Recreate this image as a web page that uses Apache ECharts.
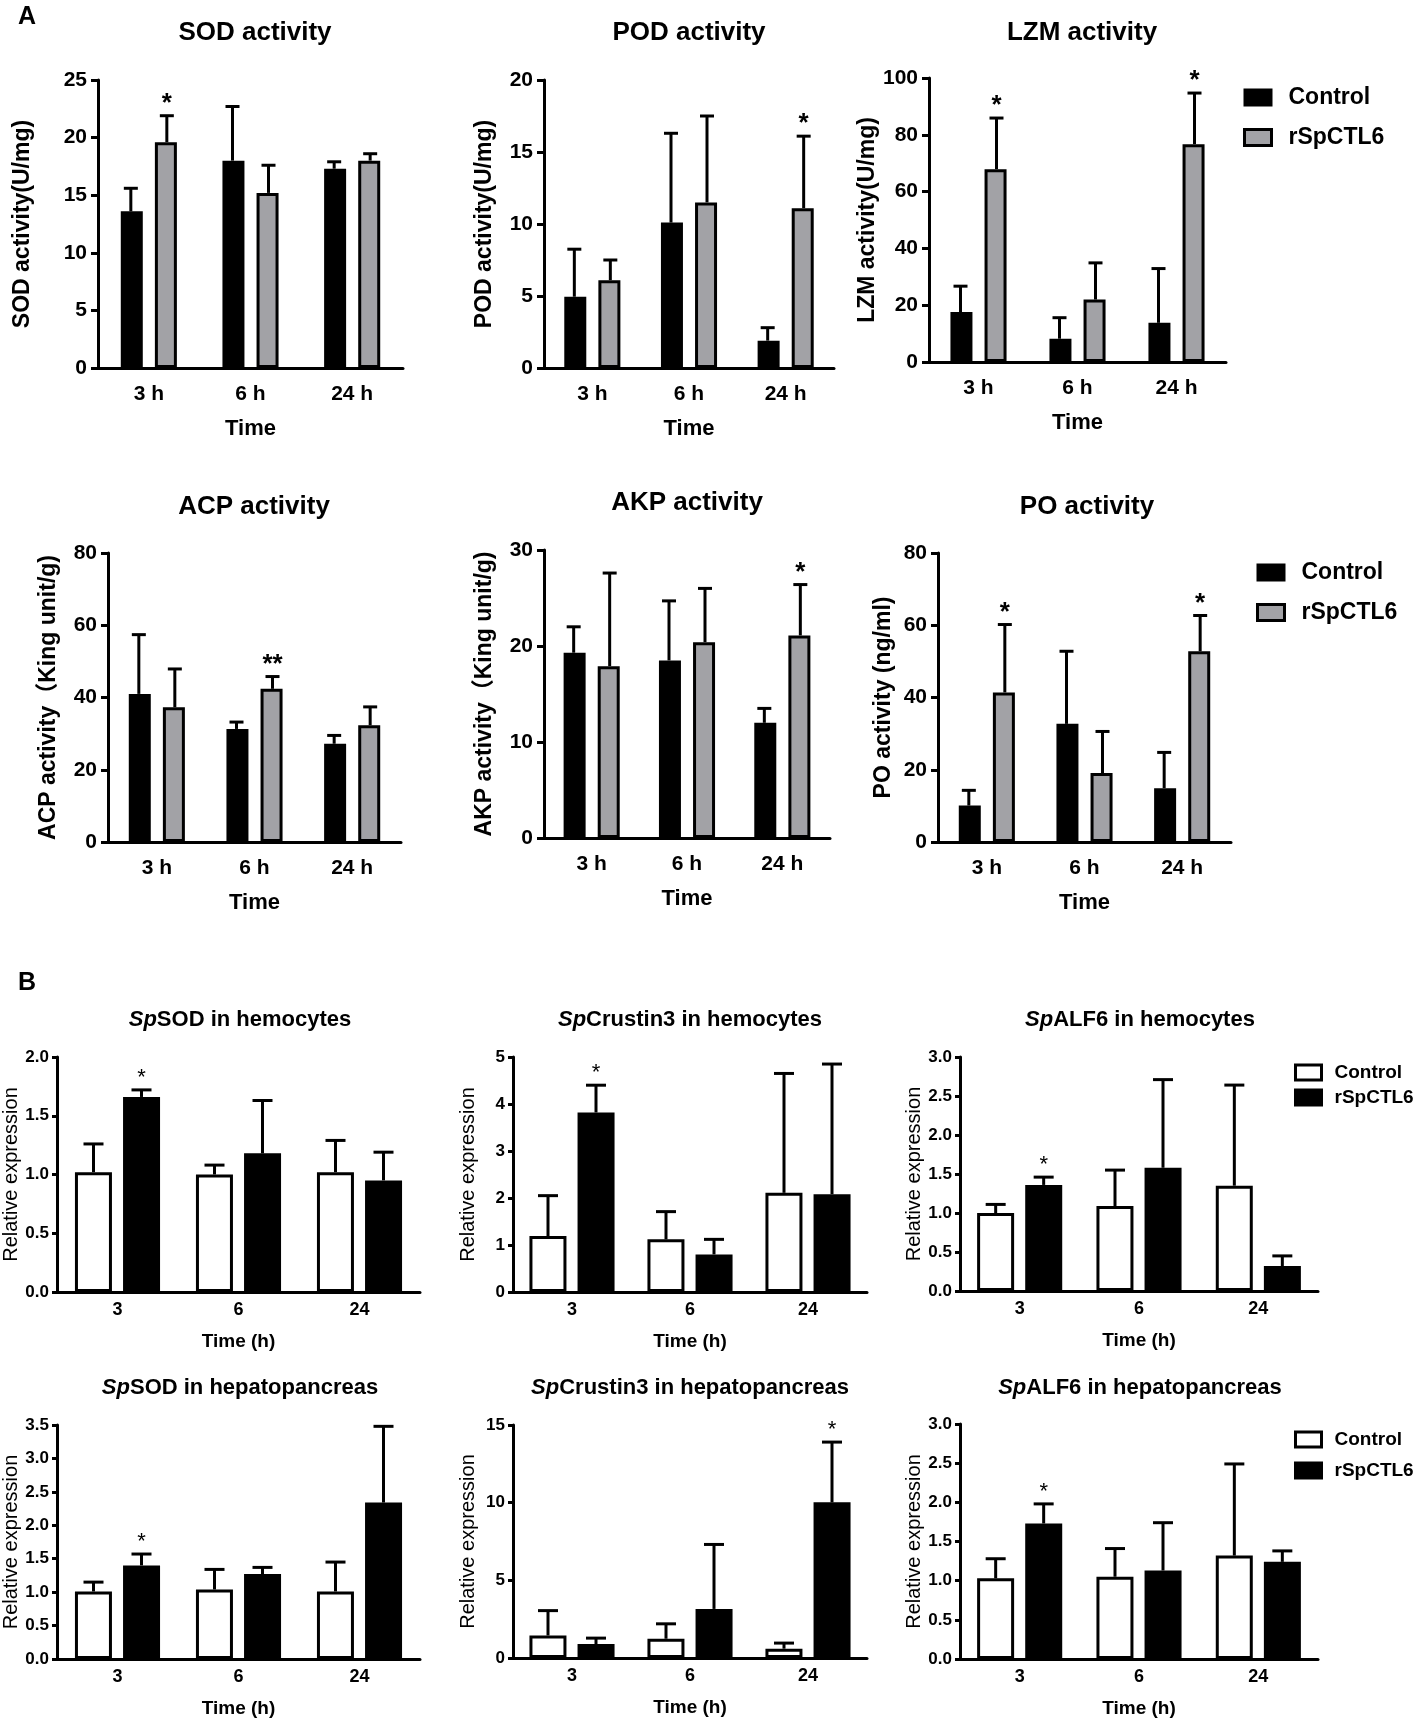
<!DOCTYPE html>
<html>
<head>
<meta charset="utf-8">
<script src="https://cdn.jsdelivr.net/npm/echarts@6/dist/echarts.min.js"></script>
<style>
  html, body { margin: 0; background: #fff; }
  #fig { width: 1418px; height: 1722px; }
</style>
</head>
<body>
<div id="fig"></div>
<script>
// categories
const timesA = ["3 h", "6 h", "24 h"]
const timesB = ["3", "6", "24"]

// A: enzyme activities (mean and SD)
const sodCtrl = [13.6, 18.0, 17.3], sodCtrlSd = [2.0, 4.7, 0.6]
const sodRsp = [19.6, 15.2, 18.0], sodRspSd = [2.3, 2.4, 0.6]
const sodStars = ["*", "", ""]

const podCtrl = [4.95, 10.1, 1.9], podCtrlSd = [3.3, 6.2, 0.9]
const podRsp = [6.1, 11.5, 11.1], podRspSd = [1.4, 6.0, 5.0]
const podStars = ["", "", "*"]

const lzmCtrl = [17.6, 8.2, 13.8], lzmCtrlSd = [9.1, 7.4, 19.1]
const lzmRsp = [67.9, 22.0, 76.7], lzmRspSd = [18.0, 12.9, 18.0]
const lzmStars = ["*", "", "*"]

const acpCtrl = [41.0, 31.3, 27.2], acpCtrlSd = [16.4, 1.9, 2.3]
const acpRsp = [37.3, 42.4, 32.3], acpRspSd = [10.6, 3.4, 5.1]
const acpStars = ["", "**", ""]

const akpCtrl = [19.3, 18.5, 12.0], akpCtrlSd = [2.7, 6.2, 1.5]
const akpRsp = [17.9, 20.4, 21.1], akpRspSd = [9.7, 5.6, 5.3]
const akpStars = ["", "", "*"]

const poCtrl = [10.1, 32.7, 14.9], poCtrlSd = [4.2, 20.1, 9.9]
const poRsp = [41.4, 19.1, 52.8], poRspSd = [18.8, 11.5, 9.9]
const poStars = ["*", "", "*"]

// B: relative expression
const sodHemCtrl = [1.02, 1.00, 1.02], sodHemCtrlSd = [0.24, 0.08, 0.27]
const sodHemRsp = [1.66, 1.18, 0.95], sodHemRspSd = [0.06, 0.45, 0.24]
const sodHemStars = ["*", "", ""]

const cruHemCtrl = [1.19, 1.12, 2.11], cruHemCtrlSd = [0.86, 0.59, 2.54]
const cruHemRsp = [3.82, 0.80, 2.08], cruHemRspSd = [0.58, 0.32, 2.77]
const cruHemStars = ["*", "", ""]

const alfHemCtrl = [1.00, 1.09, 1.35], alfHemCtrlSd = [0.11, 0.46, 1.29]
const alfHemRsp = [1.36, 1.58, 0.32], alfHemRspSd = [0.10, 1.13, 0.13]
const alfHemStars = ["*", "", ""]

const sodHepCtrl = [1.01, 1.04, 1.01], sodHepCtrlSd = [0.14, 0.30, 0.44]
const sodHepRsp = [1.40, 1.27, 2.34], sodHepRspSd = [0.17, 0.10, 1.14]
const sodHepStars = ["*", "", ""]

const cruHepCtrl = [1.45, 1.24, 0.60], cruHepCtrlSd = [1.60, 0.96, 0.36]
const cruHepRsp = [0.90, 3.16, 10.02], cruHepRspSd = [0.38, 4.15, 3.88]
const cruHepStars = ["", "", "*"]

const alfHepCtrl = [1.03, 1.05, 1.32], alfHepCtrlSd = [0.25, 0.36, 1.17]
const alfHepRsp = [1.73, 1.13, 1.24], alfHepRspSd = [0.25, 0.61, 0.14]
const alfHepStars = ["*", "", ""]

const FONT = "'Liberation Sans', Arial, 'Noto Sans CJK SC', sans-serif"
const GREY = "#a2a2a6"

// style sets for the two figure parts
const styleA = {
  cats: timesA, lw: 3, barWidth: 22, barGap: "55%", dx: 18, capW: 14,
  ctrlColor: "#000", rspColor: GREY,
  tickFont: 21, tickLen: 10, xMargin: 16, yTickLen: 7, yMargin: 11, yFont: 21,
  yNameFont: 23, yNameWeight: "bold", xName: "Time", xNameFont: 22, xNameGap: 50,
  starFont: 26, starWeight: "bold", starGap: 12
}
const styleB = {
  cats: timesB, lw: 3, barWidth: 37, barGap: "30%", dx: 24, capW: 20,
  ctrlColor: "#fff", rspColor: "#000",
  tickFont: 18, tickLen: 6, xMargin: 9, yTickLen: 5, yMargin: 8, yFont: 17,
  yNameFont: 20, yNameWeight: "normal", xName: "Time (h)", xNameFont: 19, xNameGap: 40,
  starFont: 22, starWeight: "normal", starGap: 12
}

// panel layout
const panels = [
  { s: styleA, box: [98, 403, 80, 368], max: 25, step: 5, dec: 0, yName: "SOD activity(U/mg)", yGap: 64,
    ctrl: sodCtrl, ctrlSd: sodCtrlSd, rsp: sodRsp, rspSd: sodRspSd, stars: sodStars },
  { s: styleA, box: [544, 834, 80, 368], max: 20, step: 5, dec: 0, yName: "POD activity(U/mg)", yGap: 48,
    ctrl: podCtrl, ctrlSd: podCtrlSd, rsp: podRsp, rspSd: podRspSd, stars: podStars },
  { s: styleA, box: [929, 1226, 78, 362], max: 100, step: 20, dec: 0, yName: "LZM activity(U/mg)", yGap: 45,
    ctrl: lzmCtrl, ctrlSd: lzmCtrlSd, rsp: lzmRsp, rspSd: lzmRspSd, stars: lzmStars },
  { s: styleA, box: [108, 401, 553, 842], max: 80, step: 20, dec: 0, yName: "ACP activity（King unit/g)", yGap: 48,
    ctrl: acpCtrl, ctrlSd: acpCtrlSd, rsp: acpRsp, rspSd: acpRspSd, stars: acpStars },
  { s: styleA, box: [544, 830, 550, 838], max: 30, step: 10, dec: 0, yName: "AKP activity（King unit/g)", yGap: 48,
    ctrl: akpCtrl, ctrlSd: akpCtrlSd, rsp: akpRsp, rspSd: akpRspSd, stars: akpStars },
  { s: styleA, box: [938, 1231, 553, 842], max: 80, step: 20, dec: 0, yName: "PO activity (ng/ml)", yGap: 43,
    ctrl: poCtrl, ctrlSd: poCtrlSd, rsp: poRsp, rspSd: poRspSd, stars: poStars },
  { s: styleB, box: [57, 420, 1057, 1292], max: 2, step: 0.5, dec: 1, yName: "Relative expression", yGap: 35,
    ctrl: sodHemCtrl, ctrlSd: sodHemCtrlSd, rsp: sodHemRsp, rspSd: sodHemRspSd, stars: sodHemStars },
  { s: styleB, box: [513, 867, 1057, 1292], max: 5, step: 1, dec: 0, yName: "Relative expression", yGap: 35,
    ctrl: cruHemCtrl, ctrlSd: cruHemCtrlSd, rsp: cruHemRsp, rspSd: cruHemRspSd, stars: cruHemStars },
  { s: styleB, box: [960, 1318, 1057, 1291], max: 3, step: 0.5, dec: 1, yName: "Relative expression", yGap: 35,
    ctrl: alfHemCtrl, ctrlSd: alfHemCtrlSd, rsp: alfHemRsp, rspSd: alfHemRspSd, stars: alfHemStars },
  { s: styleB, box: [57, 420, 1425, 1659], max: 3.5, step: 0.5, dec: 1, yName: "Relative expression", yGap: 35,
    ctrl: sodHepCtrl, ctrlSd: sodHepCtrlSd, rsp: sodHepRsp, rspSd: sodHepRspSd, stars: sodHepStars },
  { s: styleB, box: [513, 867, 1425, 1658], max: 15, step: 5, dec: 0, yName: "Relative expression", yGap: 35,
    ctrl: cruHepCtrl, ctrlSd: cruHepCtrlSd, rsp: cruHepRsp, rspSd: cruHepRspSd, stars: cruHepStars },
  { s: styleB, box: [960, 1318, 1424, 1659], max: 3, step: 0.5, dec: 1, yName: "Relative expression", yGap: 35,
    ctrl: alfHepCtrl, ctrlSd: alfHepCtrlSd, rsp: alfHepRsp, rspSd: alfHepRspSd, stars: alfHepStars }
]

// panel titles: [italic part, rest, centre x, centre y]
const titlesA = [
  ["", "SOD activity", 255, 33], ["", "POD activity", 689, 33], ["", "LZM activity", 1082, 33],
  ["", "ACP activity", 254, 507], ["", "AKP activity", 687, 503], ["", "PO activity", 1087, 507]
]
const titlesB = [
  ["Sp", "SOD in hemocytes", 240, 1020], ["Sp", "Crustin3 in hemocytes", 690, 1020],
  ["Sp", "ALF6 in hemocytes", 1140, 1020], ["Sp", "SOD in hepatopancreas", 240, 1388],
  ["Sp", "Crustin3 in hepatopancreas", 690, 1388], ["Sp", "ALF6 in hepatopancreas", 1140, 1388]
]

// upper error bar with cap and significance mark
function errRender(means, sds, stars, dx, s) {
  return function (params, api) {
    let i = params.dataIndex
    let base = api.coord([i, means[i]])
    let top = api.coord([i, means[i] + sds[i]])
    let x = base[0] + dx
    let kids = [
      { type: "line", shape: { x1: x, y1: base[1], x2: x, y2: top[1] }, style: { stroke: "#000", lineWidth: s.lw } },
      { type: "line", shape: { x1: x - s.capW / 2, y1: top[1], x2: x + s.capW / 2, y2: top[1] },
        style: { stroke: "#000", lineWidth: s.lw } }
    ]
    if (stars && stars[i]) {
      kids.push({
        type: "text",
        style: {
          text: stars[i], x: x, y: top[1] - s.starGap, align: "center", verticalAlign: "middle",
          fontSize: s.starFont, fontWeight: s.starWeight, fontFamily: FONT, fill: "#000"
        }
      })
    }
    return { type: "group", children: kids }
  }
}

function initChart() {
  let option = {
    animation: false,
    backgroundColor: "#fff",
    grid: [], xAxis: [], yAxis: [], series: [], legend: [], graphic: []
  }

  panels.forEach(function (p, k) {
    let s = p.s
    let b = p.box
    option.grid.push({ left: b[0], top: b[2], width: b[1] - b[0], height: b[3] - b[2] })
    option.xAxis.push({
      type: "category", gridIndex: k, data: s.cats,
      axisLine: { lineStyle: { color: "#000", width: s.lw } },
      axisTick: { alignWithLabel: true, length: s.tickLen, lineStyle: { color: "#000", width: s.lw } },
      axisLabel: { color: "#000", fontSize: s.tickFont, fontWeight: "bold", fontFamily: FONT, margin: s.xMargin },
      name: s.xName, nameLocation: "middle", nameGap: s.xNameGap,
      nameTextStyle: { color: "#000", fontSize: s.xNameFont, fontWeight: "bold", fontFamily: FONT }
    })
    option.yAxis.push({
      type: "value", gridIndex: k, min: 0, max: p.max, interval: p.step,
      splitLine: { show: false },
      axisLine: { show: true, lineStyle: { color: "#000", width: s.lw } },
      axisTick: { show: true, length: s.yTickLen, lineStyle: { color: "#000", width: s.lw } },
      axisLabel: {
        color: "#000", fontSize: s.yFont, fontWeight: "bold", fontFamily: FONT, margin: s.yMargin,
        formatter: function (v) { return v.toFixed(p.dec) }
      },
      name: p.yName, nameLocation: "middle", nameRotate: 90, nameGap: p.yGap,
      nameTextStyle: { color: "#000", fontSize: s.yNameFont, fontWeight: s.yNameWeight, fontFamily: FONT }
    })
    option.series.push({
      type: "bar", name: "Control", xAxisIndex: k, yAxisIndex: k, data: p.ctrl,
      barWidth: s.barWidth, barGap: s.barGap,
      itemStyle: { color: s.ctrlColor, borderColor: "#000", borderWidth: s.lw }
    })
    option.series.push({
      type: "bar", name: "rSpCTL6", xAxisIndex: k, yAxisIndex: k, data: p.rsp,
      barWidth: s.barWidth, barGap: s.barGap,
      itemStyle: { color: s.rspColor, borderColor: "#000", borderWidth: s.lw }
    })
    option.series.push({
      type: "custom", xAxisIndex: k, yAxisIndex: k, z: 5,
      data: p.ctrl.map(function (v, i) { return [i, v + p.ctrlSd[i]] }),
      renderItem: errRender(p.ctrl, p.ctrlSd, null, -s.dx, s)
    })
    option.series.push({
      type: "custom", xAxisIndex: k, yAxisIndex: k, z: 5,
      data: p.rsp.map(function (v, i) { return [i, v + p.rspSd[i]] }),
      renderItem: errRender(p.rsp, p.rspSd, p.stars, s.dx, s)
    })
  })

  // legends
  function legendA(left, top) {
    return {
      orient: "vertical", left: left, top: top, padding: 0, itemWidth: 27, itemHeight: 16, itemGap: 17,
      selectedMode: false, icon: "rect",
      textStyle: { color: "#000", fontSize: 23, fontWeight: "bold", fontFamily: FONT, padding: [0, 0, 0, 12] },
      data: [
        { name: "Control", itemStyle: { color: "#000", borderColor: "#000", borderWidth: 2 } },
        { name: "rSpCTL6", itemStyle: { color: GREY, borderColor: "#000", borderWidth: 3 } }
      ]
    }
  }
  function legendB(left, top, gap) {
    return {
      orient: "vertical", left: left, top: top, padding: 0, itemWidth: 26, itemHeight: 15, itemGap: gap,
      selectedMode: false, icon: "rect",
      textStyle: { color: "#000", fontSize: 19, fontWeight: "bold", fontFamily: FONT, padding: [0, 0, 0, 8] },
      data: [
        { name: "Control", itemStyle: { color: "#fff", borderColor: "#000", borderWidth: 3 } },
        { name: "rSpCTL6", itemStyle: { color: "#000", borderColor: "#000", borderWidth: 3 } }
      ]
    }
  }
  option.legend.push(legendA(1243, 86))
  option.legend.push(legendA(1256, 561))
  option.legend.push(legendB(1294, 1063, 6))
  option.legend.push(legendB(1294, 1430, 12))

  // titles and part letters
  titlesA.forEach(function (t) {
    option.graphic.push({
      type: "text", x: t[2], y: t[3],
      style: { text: t[1], align: "center", verticalAlign: "middle", fontSize: 26, fontWeight: "bold", fontFamily: FONT, fill: "#000" }
    })
  })
  titlesB.forEach(function (t) {
    option.graphic.push({
      type: "text", x: t[2], y: t[3],
      style: {
        text: "{i|" + t[0] + "}{n|" + t[1] + "}", align: "center", verticalAlign: "middle", fill: "#000",
        rich: {
          i: { fontSize: 22, fontWeight: "bold", fontStyle: "italic", fontFamily: FONT, fill: "#000" },
          n: { fontSize: 22, fontWeight: "bold", fontFamily: FONT, fill: "#000" }
        }
      }
    })
  })
  option.graphic.push({ type: "text", x: 27, y: 17,
    style: { text: "A", align: "center", verticalAlign: "middle", fontSize: 25, fontWeight: "bold", fontFamily: FONT, fill: "#000" } })
  option.graphic.push({ type: "text", x: 27, y: 983,
    style: { text: "B", align: "center", verticalAlign: "middle", fontSize: 25, fontWeight: "bold", fontFamily: FONT, fill: "#000" } })

  let myChart = echarts.init(document.getElementById("fig"))
  myChart.setOption(option)
}

initChart()
</script>
</body>
</html>
